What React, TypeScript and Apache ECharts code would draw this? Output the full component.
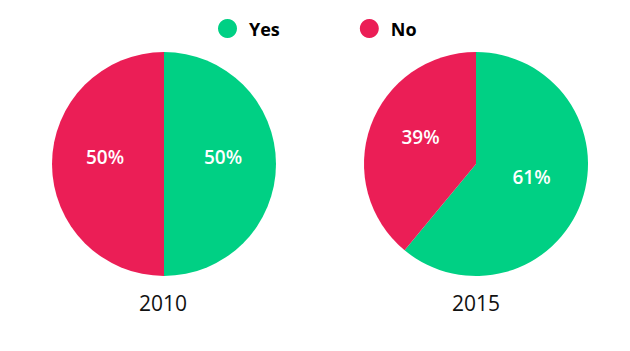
import React, { useEffect, useRef } from "react";
import * as echarts from "echarts";

const categories = ["Yes", "No"];
const years = ["2010", "2015"];
const values2010 = [50, 50];
const values2015 = [61, 39];
const colors = ["#00d084", "#eb1e56"];

export default function App() {
  const ref = useRef<HTMLDivElement>(null);
  useEffect(() => {
    const chart = echarts.init(ref.current!, null, { renderer: "svg" });
    const font = "'Open Sans', sans-serif";
    const mkSeries = (vals: number[], cx: number) => ({
      type: "pie",
      center: [cx, 164],
      radius: [0, 112],
      startAngle: 90,
      clockwise: true,
      silent: true,
      label: {
        show: true,
        position: "inner",
        formatter: "{d}%",
        color: "#ffffff",
        fontFamily: font,
        fontSize: 19,
        fontWeight: 600,
        offset: [0, -7],
      },
      labelLine: { show: false },
      itemStyle: { borderWidth: 0 },
      data: categories.map((c, i) => ({ name: c, value: vals[i] })),
    });
    const yearStyle = { fontFamily: font, fontSize: 21, fontWeight: 400, color: "#111111" };
    chart.setOption({
      animation: false,
      color: colors,
      legend: {
        data: categories,
        top: 19,
        left: 218,
        padding: 0,
        icon: "circle",
        itemWidth: 19,
        itemHeight: 19,
        itemGap: 80,
        textStyle: {
          fontFamily: font,
          fontSize: 18,
          fontWeight: 700,
          color: "#000000",
          padding: [0, 0, 0, 7],
        },
      },
      title: [
        { text: years[0], left: 163, top: 292, padding: 0, textAlign: "center", textStyle: yearStyle },
        { text: years[1], left: 476, top: 292, padding: 0, textAlign: "center", textStyle: yearStyle },
      ],
      series: [mkSeries(values2010, 164), mkSeries(values2015, 476)],
    });
    return () => chart.dispose();
  }, []);
  return <div ref={ref} style={{ width: 630, height: 351, position: "absolute", left: 0, top: 0 }} />;
}
